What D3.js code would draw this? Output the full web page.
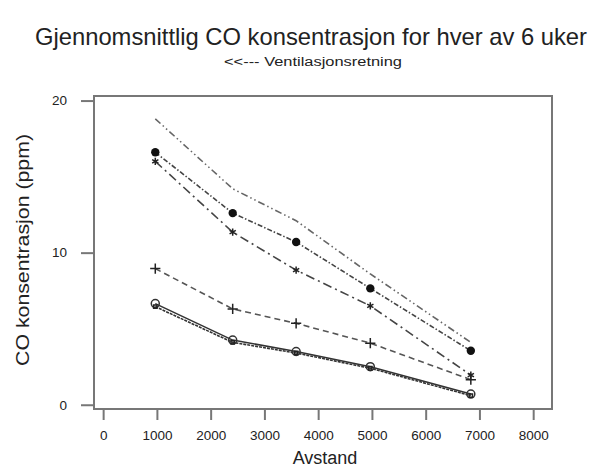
<!DOCTYPE html>
<html><head><meta charset="utf-8">
<script src="https://cdn.jsdelivr.net/npm/d3@7"></script>
<style>body{margin:0;background:#fff}svg{display:block}text{font-family:"Liberation Sans",Arial,sans-serif;fill:#222}</style>
</head><body><svg id="c" width="614" height="468"></svg>
<script>
const distances = [970, 2410, 3590, 4970, 6840];
const week1 = [18.8, 14.2, 12.1, 8.6, 4.1];
const week2 = [16.6, 12.6, 10.7, 7.65, 3.55];
const week3 = [16.0, 11.35, 8.85, 6.5, 1.95];
const week4 = [8.95, 6.3, 5.35, 4.05, 1.65];
const week5 = [6.65, 4.25, 3.5, 2.5, 0.7];
const week6 = [6.45, 4.1, 3.4, 2.4, 0.6];
const xTicks = [0, 1000, 2000, 3000, 4000, 5000, 6000, 7000, 8000];
const yTicks = [0, 10, 20];

const series = [
  {values: week1, dash: "7,3,1.5,3,1.5,3", marker: null, color: "#666"},
  {values: week2, dash: "5,2,1.5,2", marker: "filled", color: "#444"},
  {values: week3, dash: "9,4,2,4", marker: "star", color: "#444"},
  {values: week4, dash: "6,4", marker: "plus", color: "#555"},
  {values: week5, dash: null, marker: "open", color: "#333"},
  {values: week6, dash: "3,1", marker: "square", color: "#333"}
];

const svg = d3.select("#c");
const x = d3.scaleLinear().domain([-170, 8350]).range([94, 552]);
const y = d3.scaleLinear().domain([-0.28, 20.3]).range([409, 96]);

svg.append("text").attr("x", 311).attr("y", 45).attr("text-anchor", "middle")
  .attr("font-size", 24).attr("textLength", 552).attr("lengthAdjust", "spacingAndGlyphs")
  .text("Gjennomsnittlig CO konsentrasjon for hver av 6 uker");
svg.append("text").attr("x", 313).attr("y", 66).attr("text-anchor", "middle")
  .attr("font-size", 12.5).attr("fill", "#333").attr("textLength", 178).attr("lengthAdjust", "spacingAndGlyphs")
  .text("<<--- Ventilasjonsretning");

const yAxis = svg.append("g").attr("transform", "translate(94,0)")
  .call(d3.axisLeft(y).tickValues(yTicks).tickSize(13).tickPadding(14).tickFormat(d3.format("d")));
const xAxis = svg.append("g").attr("transform", "translate(0,410)")
  .call(d3.axisBottom(x).tickValues(xTicks).tickSize(10).tickPadding(10).tickFormat(d3.format("d")));
[yAxis, xAxis].forEach(a => {
  a.select(".domain").remove();
  a.selectAll(".tick line").attr("stroke", "#777").attr("stroke-width", 2);
  a.selectAll(".tick text").attr("font-size", 13.5).attr("fill", "#333")
    .attr("font-family", "'Liberation Sans', Arial, sans-serif");
});

svg.append("rect").attr("x", x.range()[0]).attr("y", y.range()[1])
  .attr("width", x.range()[1] - x.range()[0]).attr("height", y.range()[0] - y.range()[1])
  .attr("fill", "none").attr("stroke", "#777").attr("stroke-width", 2);

svg.append("text").attr("transform", "translate(29,250) rotate(-90)").attr("text-anchor", "middle")
  .attr("font-size", 18).attr("fill", "#444").attr("textLength", 232).attr("lengthAdjust", "spacingAndGlyphs")
  .text("CO konsentrasjon (ppm)");
svg.append("text").attr("x", 325).attr("y", 464).attr("text-anchor", "middle")
  .attr("font-size", 18).attr("fill", "#444").text("Avstand");

const line = d3.line().x((d, i) => x(distances[i])).y(d => y(d));
series.forEach(s => {
  svg.append("path").attr("d", line(s.values)).attr("fill", "none")
    .attr("stroke", s.color).attr("stroke-width", 1.6)
    .attr("stroke-dasharray", s.dash);
  if (!s.marker) return;
  const g = svg.append("g");
  s.values.forEach((v, i) => {
    const px = x(distances[i]), py = y(v);
    if (s.marker === "filled") {
      g.append("circle").attr("cx", px).attr("cy", py).attr("r", 4.2).attr("fill", "#111");
    } else if (s.marker === "open") {
      g.append("circle").attr("cx", px).attr("cy", py).attr("r", 4).attr("fill", "none")
        .attr("stroke", "#333").attr("stroke-width", 1.5);
    } else {
      const type = s.marker === "star" ? d3.symbolAsterisk : s.marker === "plus" ? d3.symbolPlus : d3.symbolSquare2;
      const size = s.marker === "square" ? 14 : 36;
      g.append("path").attr("transform", `translate(${px},${py})`)
        .attr("d", d3.symbol(type, size)()).attr("fill", "none")
        .attr("stroke", "#222").attr("stroke-width", 1.5);
    }
  });
});
</script></body></html>
